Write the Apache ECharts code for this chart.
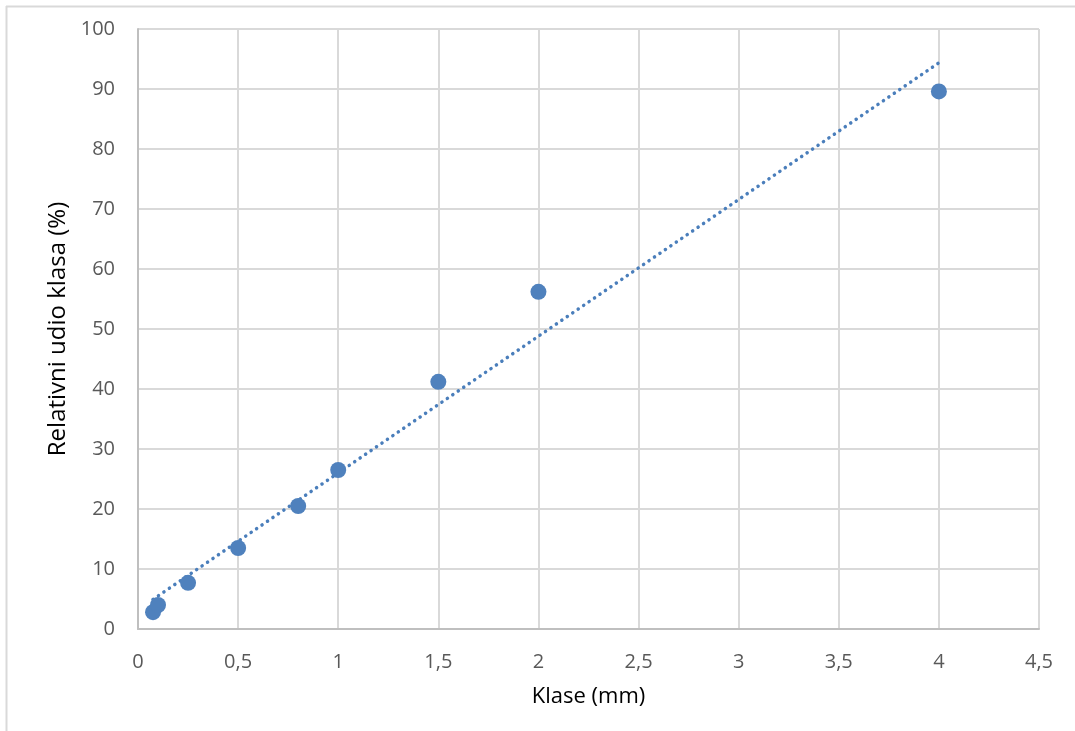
<!DOCTYPE html>
<html><head><meta charset="utf-8">
<script src="https://cdn.jsdelivr.net/npm/echarts@6/dist/echarts.min.js"></script>
<style>html,body{margin:0;padding:0;background:#fff}#c{width:1075px;height:731px}</style>
</head><body><div id="c"></div>
<script>
const classes = [0.075, 0.1, 0.25, 0.5, 0.8, 1, 1.5, 2, 4];
const shares = [2.8, 4.0, 7.7, 13.5, 20.5, 26.5, 41.2, 56.2, 89.6];
const xTitle = 'Klase (mm)';
const yTitle = 'Relativni udio klasa (%)';

// linear trendline (least squares) from data
const n = classes.length;
const mx = classes.reduce((a,b)=>a+b,0)/n, my = shares.reduce((a,b)=>a+b,0)/n;
let sxy=0, sxx=0;
for(let i=0;i<n;i++){sxy+=(classes[i]-mx)*(shares[i]-my);sxx+=(classes[i]-mx)**2;}
const slope=sxy/sxx, icpt=my-slope*mx;
const xMin=Math.min(...classes), xMax=Math.max(...classes);
const trend=[[xMin,icpt+slope*xMin],[xMax,icpt+slope*xMax]];

const chart = echarts.init(document.getElementById('c'));
const font='Open Sans';
chart.setOption({
  animation:false,
  grid:{left:138,right:36,top:29,bottom:102},
  graphic:[
    {type:'line',shape:{x1:6,y1:6.5,x2:1075,y2:6.5},style:{stroke:'#d9d9d9',lineWidth:2}},
    {type:'line',shape:{x1:6.5,y1:6,x2:6.5,y2:731},style:{stroke:'#d9d9d9',lineWidth:2}}
  ],
  xAxis:{type:'value',min:0,max:4.5,interval:0.5,
    name:xTitle,nameLocation:'middle',nameGap:57,
    nameTextStyle:{fontFamily:font,fontSize:22,color:'#000'},
    axisLine:{lineStyle:{color:'#bfbfbf',width:2}},axisTick:{show:false},
    splitLine:{lineStyle:{color:'#d9d9d9',width:2}},
    axisLabel:{fontFamily:font,fontSize:20,color:'#595959',margin:23,
      formatter:v=>String(v).replace('.',',')}},
  yAxis:{type:'value',min:0,max:100,interval:10,
    name:yTitle,nameLocation:'middle',nameGap:68,
    nameTextStyle:{fontFamily:font,fontSize:24,color:'#000'},
    axisLine:{show:true,lineStyle:{color:'#bfbfbf',width:2}},axisTick:{show:false},
    splitLine:{lineStyle:{color:'#d9d9d9',width:2}},
    axisLabel:{fontFamily:font,fontSize:20,color:'#595959',margin:23}},
  series:[
    {type:'line',data:trend,symbol:'none',silent:true,
     lineStyle:{color:'#4a7ebb',width:3.5,type:[0.1,6.5],cap:'round'},z:2},
    {type:'scatter',data:classes.map((x,i)=>[x,shares[i]]),symbolSize:16,
     itemStyle:{color:'#4f81bd',opacity:1},z:3}
  ]
});
</script></body></html>
